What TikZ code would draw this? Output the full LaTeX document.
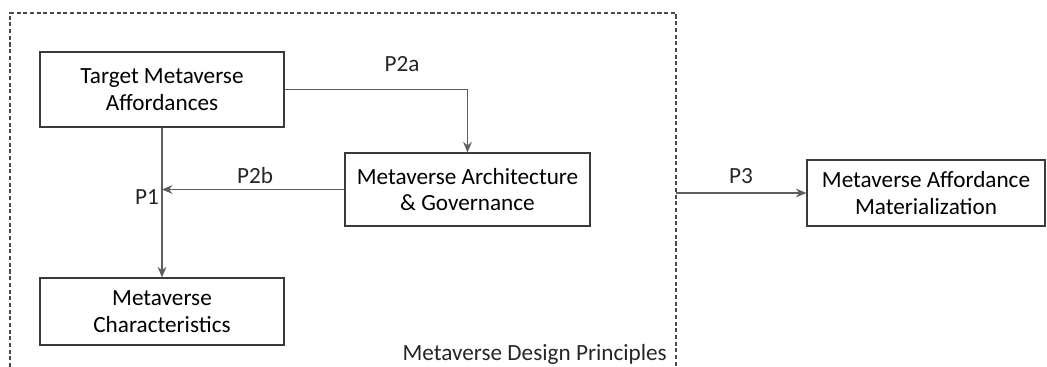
\documentclass[tikz,border=0pt]{standalone}
\usepackage{fontspec}
\setmainfont{Carlito}
\usetikzlibrary{arrows.meta,positioning}
\definecolor{boxline}{HTML}{3A3A3A}
\definecolor{arrline}{HTML}{5E5E5E}
\definecolor{dashline}{HTML}{4A4A4A}
\tikzset{
  mvbox/.style={draw=boxline,line width=0.7pt,align=center,inner sep=2pt,font=\fontsize{13.2}{15}\selectfont},
  mvarrow/.style={draw=arrline,line width=0.6pt,-{Stealth[length=6pt,width=5pt,inset=2pt]}},
  plabel/.style={font=\fontsize{13.2}{15}\selectfont,text=black!85}
}

\begin{document}
\begin{tikzpicture}[x=0.02cm,y=-0.02cm]
        \useasboundingbox (0,0) rectangle (1047,367);
        % design principles frame, open at the bottom
        \draw[dashline,line width=0.9pt,dash pattern=on 2.3pt off 1.5pt] (10,367) -- (10,13) -- (676,13) -- (676,367);
        \node[plabel,anchor=east] (frame) at (673,354) {Metaverse Design Principles};
        % boxes
        \node[mvbox,minimum width=4.88cm,minimum height=1.5cm] (target) at (162,89.5) {Target Metaverse\\Affordances};
        \node[mvbox,minimum width=4.88cm,minimum height=1.34cm] (chars) at (162,311.5) {Metaverse\\Characteristics};
        \node[mvbox,minimum width=4.9cm,minimum height=1.46cm] (arch) at (467.5,189.5) {Metaverse Architecture\\\& Governance};
        \node[mvbox,minimum width=4.76cm,minimum height=1.32cm] (mat) at (926,193) {Metaverse Affordance\\Materialization};
        % connectors
        \coordinate (join) at (target.south |- arch.west);
        \coordinate (frameR) at (676,193);
        \draw[mvarrow] (target.south) -- (chars.north);
        \draw[mvarrow] (target.east) -| (arch.north);
        \draw[mvarrow] (arch.west) -- (join);
        \draw[mvarrow] (frameR) -- (mat.west);
        % labels
        \node[plabel] (p1) at (147,197) {P1};
        \node[plabel] (p2a) at (402,64) {P2a};
        \node[plabel] (p2b) at (255,176) {P2b};
        \node[plabel] (p3) at (741,176) {P3};
      \end{tikzpicture}
\end{document}
